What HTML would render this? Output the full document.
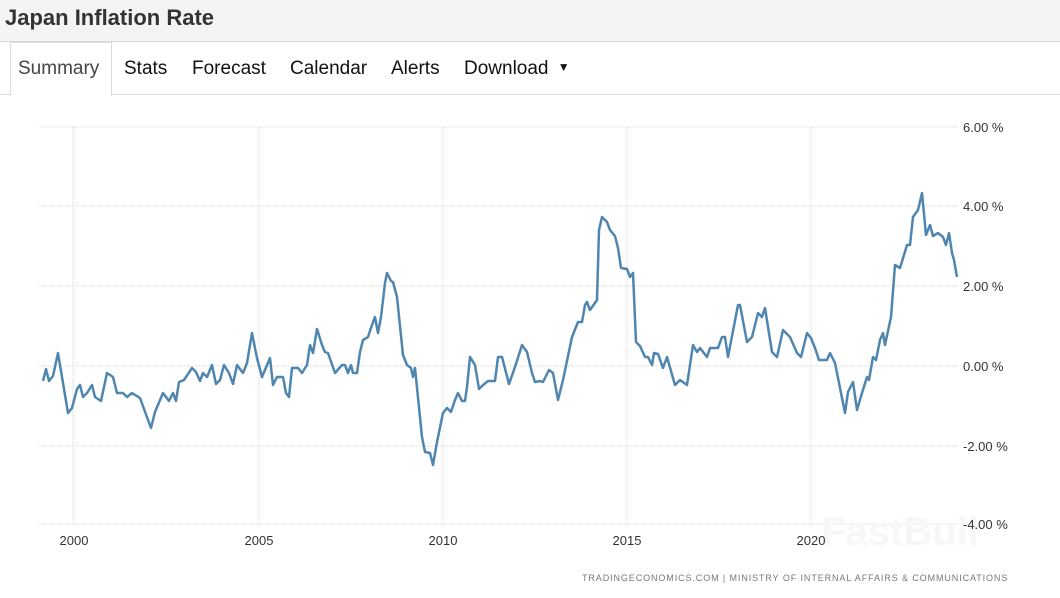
<!DOCTYPE html>
<html><head><meta charset="utf-8"><style>
body{margin:0;width:1060px;height:598px;background:#fff;font-family:"Liberation Sans",Arial,sans-serif;overflow:hidden;position:relative}
.title{position:absolute;left:0;top:0;width:1060px;height:41px;background:#f4f4f4;border-bottom:1px solid #d6d6d6}
.title span{position:absolute;left:5px;top:5px;font-size:22px;font-weight:bold;color:#333}
.tabs{position:absolute;left:0;top:42px;width:1060px;height:52px;border-bottom:1px solid #ddd}
.tab{position:absolute;top:16px;font-size:19px;color:#111}
.active{position:absolute;left:10px;top:0;width:100px;height:53px;background:#fff;border:1px solid #ddd;border-bottom:none}
.foot{position:absolute;left:582px;top:573px;font-size:9px;letter-spacing:0.9px;color:#777;white-space:nowrap}
</style></head><body>
<div class="title"><span>Japan Inflation Rate</span></div>
<div class="tabs">
<div class="active"></div>
<div class="tab" style="left:18px;color:#444">Summary</div>
<div class="tab" style="left:124px">Stats</div>
<div class="tab" style="left:192px">Forecast</div>
<div class="tab" style="left:290px">Calendar</div>
<div class="tab" style="left:391px">Alerts</div>
<div class="tab" style="left:464px">Download <span style="font-size:12px;position:relative;top:-3px;left:4px">&#9660;</span></div>
</div>
<svg width="1060" height="598" style="position:absolute;left:0;top:0">
<g stroke="#d8d8d8" stroke-width="1" stroke-dasharray="1,1">
<line x1="38" y1="127" x2="958" y2="127"/><line x1="38" y1="206" x2="958" y2="206"/><line x1="38" y1="286" x2="958" y2="286"/><line x1="38" y1="366" x2="958" y2="366"/><line x1="38" y1="446" x2="958" y2="446"/><line x1="38" y1="524" x2="958" y2="524"/>
<line x1="73" y1="127" x2="73" y2="524"/><line x1="259" y1="127" x2="259" y2="524"/><line x1="443" y1="127" x2="443" y2="524"/><line x1="627" y1="127" x2="627" y2="524"/><line x1="811" y1="127" x2="811" y2="524"/>
</g>
<text x="900" y="545" font-size="40" font-weight="bold" fill="#f7f7f7" text-anchor="middle">FastBull</text>
<g font-size="13" fill="#333" font-family="Liberation Sans,Arial,sans-serif">
<text x="963" y="132">6.00 %</text><text x="963" y="211">4.00 %</text><text x="963" y="291">2.00 %</text><text x="963" y="371">0.00 %</text><text x="963" y="451">-2.00 %</text><text x="963" y="529">-4.00 %</text>
<text x="74" y="545" text-anchor="middle">2000</text><text x="259" y="545" text-anchor="middle">2005</text><text x="443" y="545" text-anchor="middle">2010</text><text x="627" y="545" text-anchor="middle">2015</text><text x="811" y="545" text-anchor="middle">2020</text>
</g>
<polyline fill="none" stroke="#4f86b0" stroke-width="2.5" stroke-linejoin="round" points="43,381 46,369 49,381 53,376 58,353 68,413 72,408 77,389 80,385 83,397 87,393 92,385 95,397 101,401 107,373 113,377 117,393 123,393 127,397 132,393 140,398 151,428 155,412 163,393 169,401 173,393 176,401 179,382 184,380 192,368 196,372 200,381 203,373 207,377 212,365 216,384 220,380 224,365 229,373 233,384 237,365 243,373 247,363 252,333 257,358 262,377 270,358 273,385 277,377 283,377 286,393 289,397 292,368 298,368 302,373 307,365 310,345 313,353 317,329 322,345 325,352 328,353 335,373 342,365 345,365 348,373 351,365 353,373 357,373 360,352 363,340 368,337 372,325 375,317 378,333 381,317 385,283 387,273 391,281 393,282 397,297 403,355 407,365 411,368 413,377 415,368 422,437 425,452 430,453 433,465 437,442 443,413 447,408 451,412 455,400 458,393 462,401 465,401 467,387 470,357 475,365 479,389 483,385 488,381 495,381 498,357 502,357 509,384 515,367 522,345 527,352 532,373 535,382 540,381 543,382 549,370 553,373 558,400 563,380 572,337 578,322 582,322 585,305 587,302 590,310 597,300 599,230 602,217 607,222 610,230 615,236 618,248 621,268 627,269 630,277 633,273 636,342 640,346 645,357 648,357 652,365 654,353 658,354 663,368 667,357 675,385 680,380 687,385 693,345 697,352 700,348 707,357 710,348 718,348 722,337 725,337 728,357 738,305 740,305 747,342 752,337 758,313 762,317 765,308 772,352 777,357 783,330 790,337 797,353 801,357 807,333 811,338 815,348 819,360 827,360 830,353 835,363 845,413 848,392 853,382 857,410 862,393 867,377 869,380 873,357 876,360 880,340 883,333 885,345 891,317 895,265 900,268 907,245 910,245 913,217 918,210 922,193 926,235 930,225 933,236 938,233 943,237 946,245 949,233 952,253 954,260 957,277"/>
</svg>
<div class="foot">TRADINGECONOMICS.COM | MINISTRY OF INTERNAL AFFAIRS &amp; COMMUNICATIONS</div>
</body></html>
